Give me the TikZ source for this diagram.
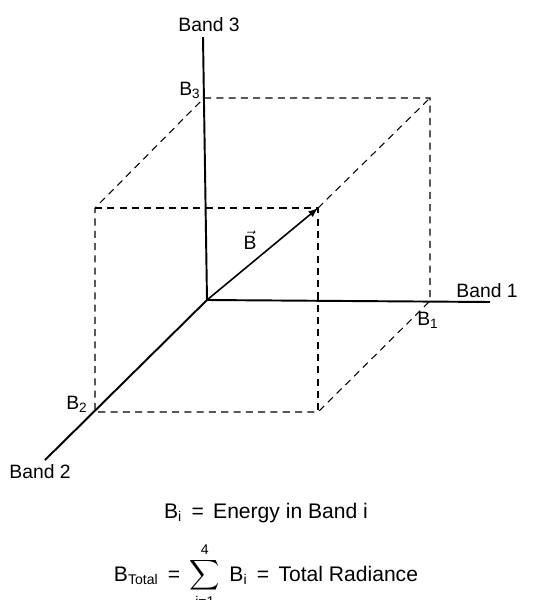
\documentclass[tikz,border=0pt]{standalone}
\usepackage{fontspec}
\setmainfont{Liberation Sans}
\setsansfont{Liberation Sans}
\usepackage{amsmath}
\begin{document}
\begin{tikzpicture}[x=0.02cm,y=-0.02cm,
	axis/.style={line width=1.1pt},
	guide/.style={line width=0.6pt,dash pattern=on 4pt off 3pt},
	lbl/.style={font=\fontsize{11}{13}\selectfont,inner sep=0pt},
	eqn/.style={font=\fontsize{12}{14}\selectfont,inner sep=0pt}]
	\useasboundingbox (0,0) rectangle (539,600);
	% axes
	\coordinate (o) at (207,300);
	\coordinate (a1) at (490,302);
	\coordinate (a2) at (45,460);
	\coordinate (a3) at (203,37);
	\coordinate (b1) at (430,301);
	\coordinate (b2) at (95,412);
	\coordinate (b3) at (204,98);
	\coordinate (c12) at (318,412);
	\coordinate (c13) at (430,98);
	\coordinate (c23) at (95,208);
	\coordinate (p) at (318,208);
	\draw[axis] (o) -- (a1);
	\draw[axis] (o) -- (a2);
	\draw[axis] (o) -- (a3);
	% box
	\draw[guide] (b3) -- (c13) -- (b1) -- (c12) -- (b2) -- (c23) -- (b3);
	\draw[guide] (c23) -- (p) -- (c12);
	\draw[guide] (p) -- (c13);
	% vector
	\draw[line width=0.9pt,-latex] (o) -- (p);
	% labels
	\node[lbl] (l3) at (209,25) {Band 3};
	\node[lbl] (l1) at (487,291) {Band 1};
	\node[lbl] (l2) at (40,472) {Band 2};
	\node[lbl] (lb3) at (190,90) {B\textsubscript{3}};
	\node[lbl] (lb1) at (428,320) {B\textsubscript{1}};
	\node[lbl] (lb2) at (77,404) {B\textsubscript{2}};
	\node[lbl] (lv) at (250,240) {$\vec{\text{B}}$};
	\node[eqn] (eq1) at (266,513) {B\textsubscript{i} \,=\, Energy in Band i};
	\node[eqn,anchor=base] (eq2) at (266,581) {B\textsubscript{Total} \,=\, $\displaystyle\sum_{\text{i=1}}^{\text{4}}$ \,B\textsubscript{i} \,=\, Total Radiance};
\end{tikzpicture}
\end{document}
